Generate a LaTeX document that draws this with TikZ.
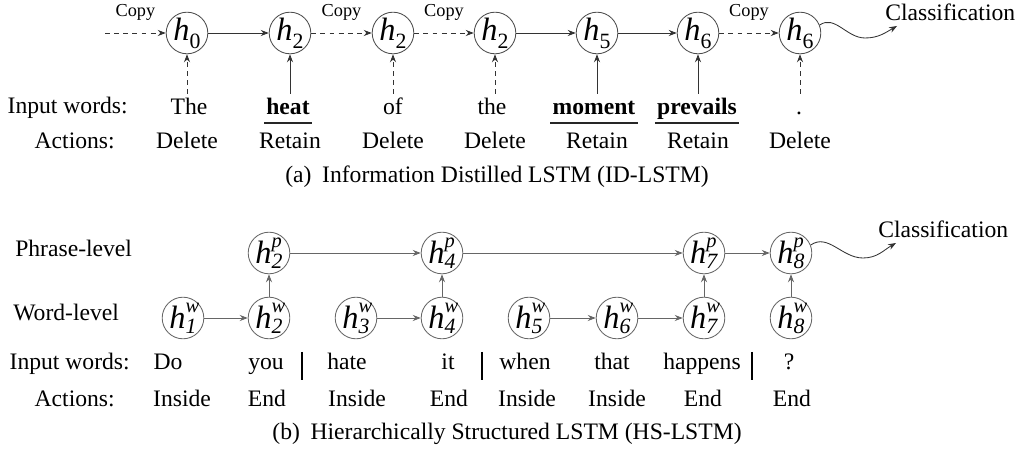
\documentclass[tikz,border=0pt]{standalone}
\usepackage{fontspec}
\setmainfont{Liberation Serif}
\usetikzlibrary{arrows.meta}

% h con pedice, e h con apice e pedice
\newcommand{\hped}[1]{\textit{h}\raisebox{-0.25em}{\fontsize{15.5}{15.5}\selectfont #1}}
\newcommand{\hdue}[2]{\textit{h}\rlap{\raisebox{0.5em}{\fontsize{14.5}{14.5}\selectfont\textit{#1}}}\raisebox{-0.15em}{\fontsize{15.5}{15.5}\selectfont\textit{#2}}}

\tikzset{
	stato/.style={circle, draw=black!70, line width=0.6pt, minimum size=1.04cm, inner sep=0pt,
		font=\fontsize{23}{23}\selectfont},
	parola/.style={anchor=base, inner sep=0pt, font=\fontsize{16.8}{19}\selectfont},
	freccia/.style={-{Stealth[length=2mm,width=1.5mm]}, line width=0.6pt, draw=black!80},
	tratto/.style={freccia, dash pattern=on 3.5pt off 3pt},
	grigia/.style={freccia, draw=black!60},
	copia/.style={midway, anchor=base, yshift=0.4cm, inner sep=0pt, font=\fontsize{13}{14}\selectfont},
	sottolinea/.style={line width=1.3pt, black!85},
	barra/.style={line width=1.4pt}
}

\begin{document}
\begin{tikzpicture}[x=0.025cm, y=-0.025cm]
	\useasboundingbox (0,0) rectangle (1020,451);

	% (a) ID-LSTM: stati nascosti
	\foreach \i/\x/\s in {0/187/0, 1/290/2, 2/393/2, 3/495/2, 4/597/5, 5/698/6, 6/800/6}
		\node[stato] (t\i) at (\x,33) {\hped{\s}};

	% parole in ingresso e azioni
	\node[parola, anchor=base east] (lin1) at (128,114) {Input words:};
	\node[parola, anchor=base east] (lact1) at (115,149) {Actions:};
	\foreach \i/\x/\w in {0/189/The, 1/288/\textbf{heat}, 2/393/of, 3/492/the,
		4/594/\textbf{moment}, 5/697/\textbf{prevails}, 6/799/{.}}
		\node[parola] (p\i) at (\x,115) {\w};
	\foreach \i/\x/\a in {0/187/Delete, 1/290/Retain, 2/393/Delete, 3/495/Delete,
		4/597/Retain, 5/698/Retain, 6/800/Delete}
		\node[parola] (a\i) at (\x,149) {\a};

	% parole trattenute sottolineate
	\foreach \i in {1,4,5}
		\draw[sottolinea] ([xshift=-0.05cm, yshift=-0.2cm]p\i.base west) -- ([xshift=0.05cm, yshift=-0.2cm]p\i.base east);

	% frecce verticali dalle parole
	\foreach \i/\x in {0/187, 1/290, 2/393, 3/495, 4/597, 5/698, 6/800}
		\coordinate (b\i) at (\x,94);
	\foreach \i in {1,4,5}
		\draw[freccia] (b\i) -- (t\i);
	\foreach \i in {0,2,3,6}
		\draw[tratto] (b\i) -- (t\i);

	% frecce orizzontali
	\coordinate (inizio) at (105,33);
	\draw[tratto] (inizio) -- node[copia] {Copy} (t0);
	\draw[freccia] (t0) -- (t1);
	\draw[tratto] (t1) -- node[copia] {Copy} (t2);
	\draw[tratto] (t2) -- node[copia] {Copy} (t3);
	\draw[freccia] (t3) -- (t4);
	\draw[freccia] (t4) -- (t5);
	\draw[tratto] (t5) -- node[copia] {Copy} (t6);

	% classificazione
	\node[parola, anchor=base west] (cls1) at (885,21) {Classification};
	\coordinate (onda1) at (865,38);
	\coordinate (fine1) at (897,26);
	\draw[freccia] (t6.22) to[out=35,in=180] (onda1) to[out=0,in=210] (fine1);

	\node[parola] (cap1) at (497,183) {(a)\hspace{0.45em}Information Distilled LSTM (ID-LSTM)};

	% (b) HS-LSTM: livello parola e livello frase
	\node[parola, anchor=base west] (lfr) at (15,257) {Phrase-level};
	\node[parola, anchor=base west] (lwo) at (13,321) {Word-level};
	\foreach \i/\x in {1/183, 2/269, 3/356, 4/442, 5/529, 6/617, 7/704, 8/791}
		\node[stato, draw=black!60] (w\i) at (\x,318) {\hdue{w}{\i}};
	\foreach \i/\x in {2/269, 4/442, 7/704, 8/791}
		\node[stato, draw=black!60] (f\i) at (\x,253) {\hdue{p}{\i}};

	\node[parola, anchor=base east] (lin2) at (130,370) {Input words:};
	\node[parola, anchor=base east] (lact2) at (115,407) {Actions:};
	\foreach \i/\x/\w in {1/168/Do, 2/266/you, 3/347/hate, 4/448/it, 5/525/when,
		6/612/that, 7/702/happens, 8/789/?}
		\node[parola] (q\i) at (\x,370) {\w};
	\foreach \i/\x/\a in {1/182/Inside, 2/267/End, 3/357/Inside, 4/449/End,
		5/527/Inside, 6/617/Inside, 7/703/End, 8/792/End}
		\node[parola] (c\i) at (\x,407) {\a};

	% separatori delle frasi
	\foreach \x in {302, 482, 752}
		\draw[barra] (\x,352) -- (\x,380);

	% connessioni
	\draw[grigia] (w1) -- (w2);
	\draw[grigia] (w3) -- (w4);
	\draw[grigia] (w5) -- (w6);
	\draw[grigia] (w6) -- (w7);
	\foreach \i in {2,4,7,8}
		\draw[grigia] (w\i) -- (f\i);
	\draw[grigia] (f2) -- (f4);
	\draw[grigia] (f4) -- (f7);
	\draw[grigia] (f7) -- (f8);

	\node[parola, anchor=base west] (cls2) at (878,238) {Classification};
	\coordinate (onda2) at (863,258);
	\coordinate (fine2) at (896,243);
	\draw[freccia] (f8.22) to[out=35,in=180] (onda2) to[out=0,in=210] (fine2);

	\node[parola] (cap2) at (507,440) {(b)\hspace{0.45em}Hierarchically Structured LSTM (HS-LSTM)};

\end{tikzpicture}
\end{document}
